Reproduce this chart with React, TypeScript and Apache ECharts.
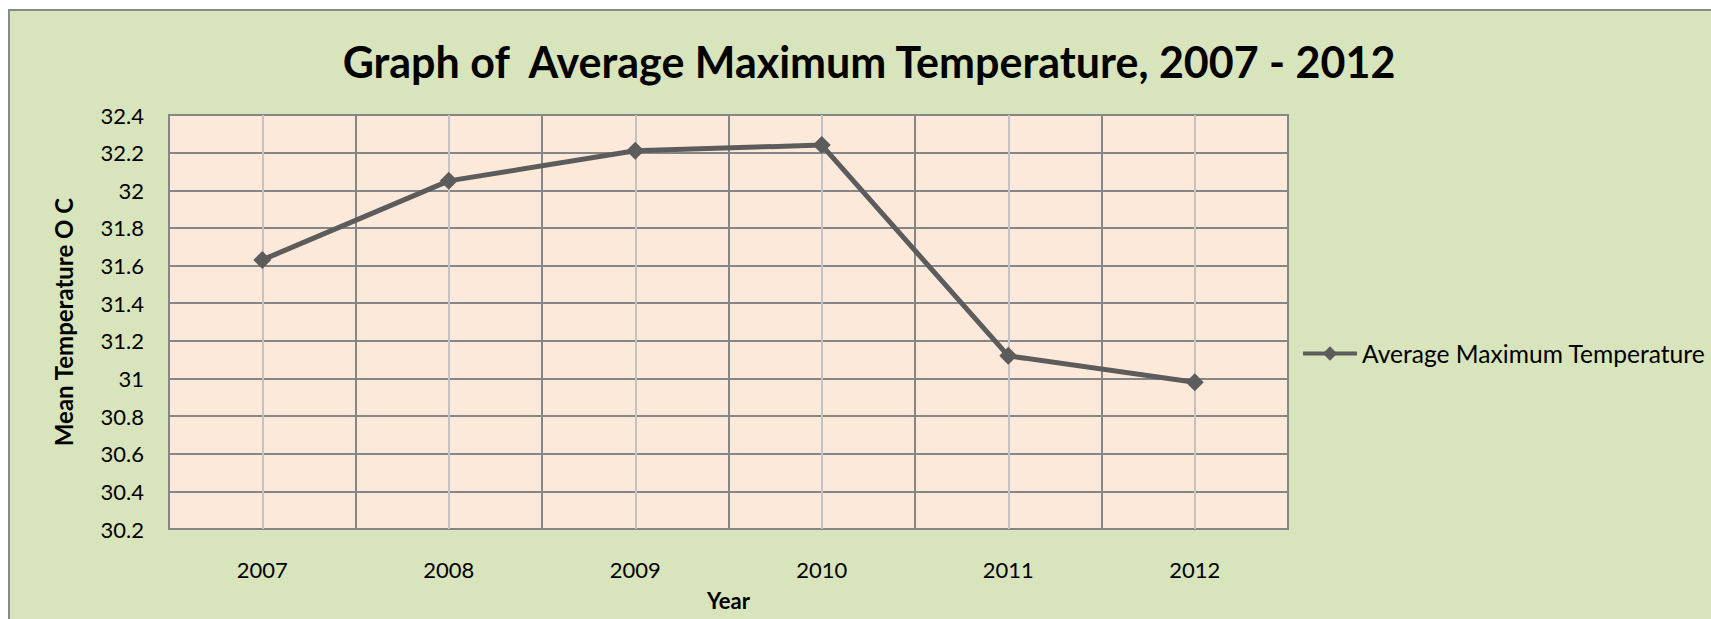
import React, { useEffect, useRef } from "react";
import * as echarts from "echarts";

const years = ["2007", "2008", "2009", "2010", "2011", "2012"];
const avgMaxTemp = [31.63, 32.05, 32.21, 32.24, 31.12, 30.98];
const seriesName = "Average Maximum Temperature";
const titleText = "Graph of  Average Maximum Temperature, 2007 - 2012";
const yAxisName = "Mean Temperature O C";
const xAxisName = "Year";

const FONT = "Lato, 'Open Sans', sans-serif";

export default function App() {
  const ref = useRef<HTMLDivElement>(null);
  useEffect(() => {
    document.documentElement.style.overflow = "hidden";
    document.body.style.overflow = "hidden";
    const chart = echarts.init(ref.current!, null, { renderer: "svg" });
    chart.setOption({
      animation: false,
      backgroundColor: "#d8e4bc",
      textStyle: { fontFamily: FONT },
      title: {
        text: titleText,
        left: 856,
        textAlign: "center",
        top: 26,
        textStyle: { fontFamily: FONT, fontSize: 43, fontWeight: "bold", color: "#000" },
      },
      graphic: [
        {
          type: "rect",
          shape: { x: 1, y: 1, width: 1760, height: 660 },
          style: { fill: "none", stroke: "#8a8a8a", lineWidth: 2 },
          silent: true,
        },
      ],
      legend: {
        data: [seriesName],
        left: 1293,
        top: 332,
        padding: 0,
        itemWidth: 54,
        itemHeight: 18,
        lineStyle: { width: 4, color: "#5c5c5c" },
        textStyle: { fontFamily: FONT, fontSize: 24.6, color: "#000" },
      },
      grid: {
        left: 161,
        top: 106,
        width: 1119,
        height: 414,
        show: true,
        backgroundColor: "#fde9d9",
        borderColor: "#868686",
        borderWidth: 2,
      },
      xAxis: {
        type: "category",
        data: years,
        boundaryGap: true,
        name: xAxisName,
        nameLocation: "middle",
        nameGap: 60,
        nameTextStyle: { fontFamily: FONT, fontSize: 22, fontWeight: "bold", color: "#000" },
        axisLine: { show: true, lineStyle: { color: "#868686", width: 2 } },
        axisTick: { show: false },
        axisLabel: { margin: 29, fontFamily: FONT, fontSize: 22, color: "#000" },
        splitLine: { show: true, interval: 0, lineStyle: { color: "#868686", width: 2 } },
      },
      yAxis: {
        type: "value",
        min: 30.2,
        max: 32.4,
        interval: 0.2,
        name: yAxisName,
        nameLocation: "middle",
        nameGap: 94,
        nameTextStyle: { fontFamily: FONT, fontSize: 24, fontWeight: "bold", color: "#000" },
        axisLine: { show: true, lineStyle: { color: "#868686", width: 2 } },
        axisTick: { show: false },
        axisLabel: { margin: 25, fontFamily: FONT, fontSize: 22, color: "#000" },
        splitLine: { show: true, lineStyle: { color: "#868686", width: 2 } },
      },
      series: [
        {
          name: "centerLines",
          type: "line",
          data: [],
          z: 1,
          silent: true,
          markLine: {
            silent: true,
            symbol: ["none", "none"],
            label: { show: false },
            lineStyle: { color: "#c3c3c3", type: "solid", width: 2 },
            data: years.map((y) => ({ xAxis: y })),
          },
        },
        {
          name: seriesName,
          type: "line",
          data: avgMaxTemp,
          z: 5,
          symbol: "diamond",
          symbolSize: 18,
          lineStyle: { color: "#5c5c5c", width: 5 },
          itemStyle: { color: "#5c5c5c" },
        },
      ],
    });
    return () => chart.dispose();
  }, []);
  return (
    <div
      ref={ref}
      style={{ position: "fixed", left: 8, top: 9, width: 1760, height: 660 }}
    />
  );
}
